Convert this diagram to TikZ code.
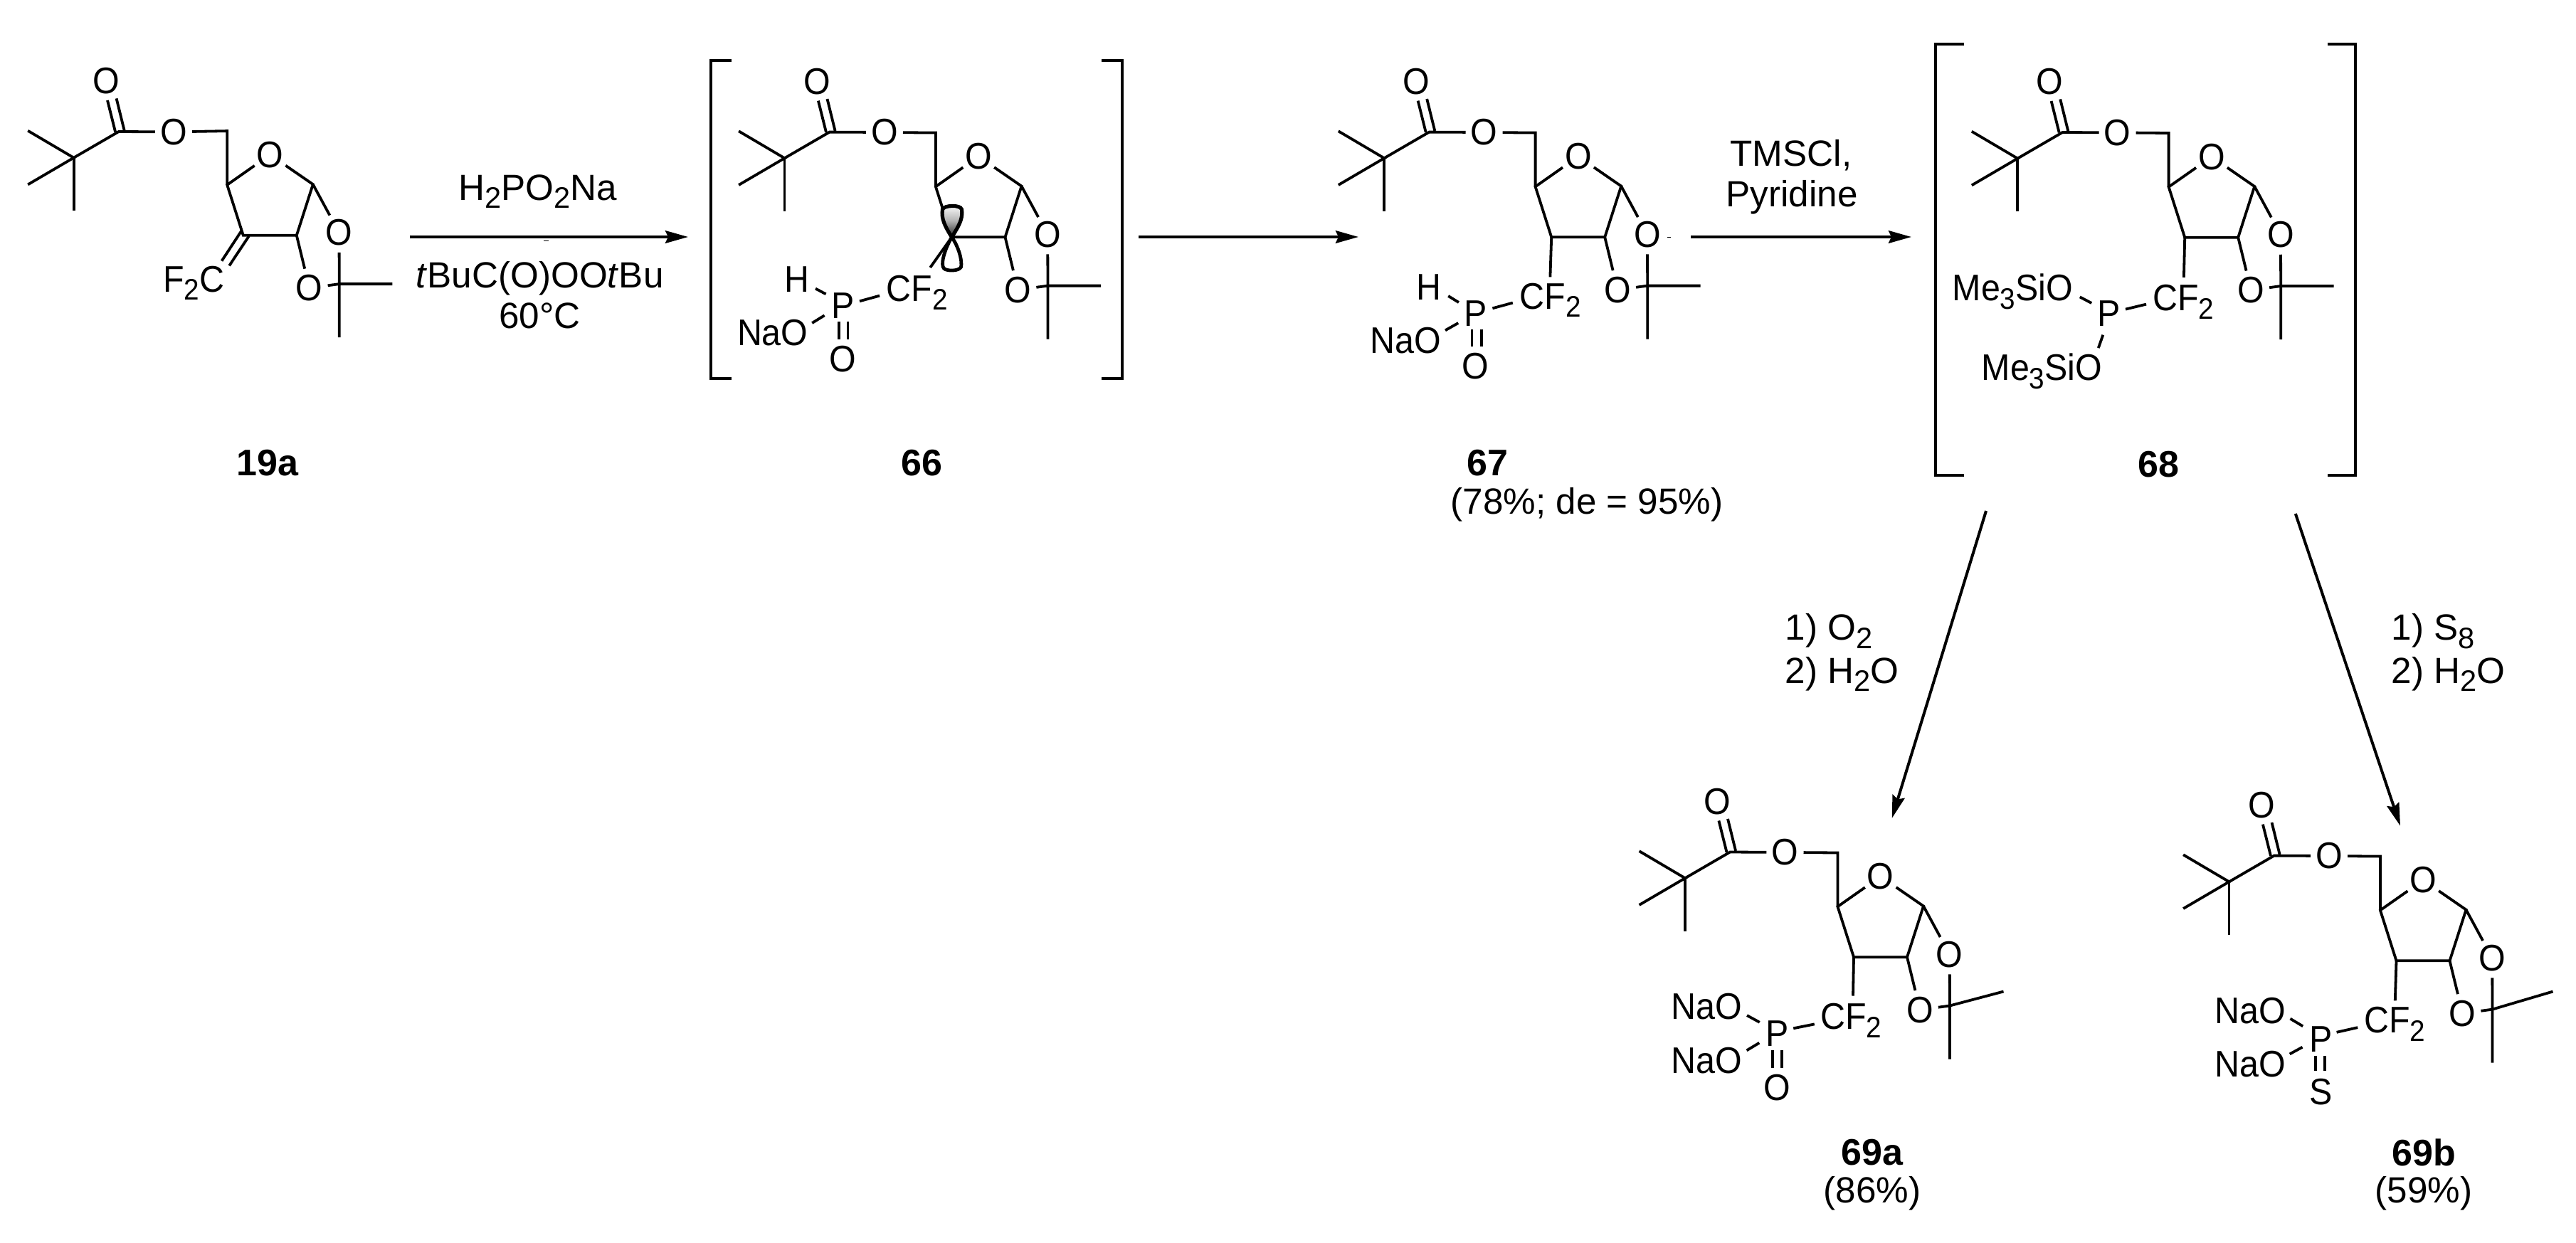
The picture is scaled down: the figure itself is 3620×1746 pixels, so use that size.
\documentclass[tikz,border=0pt]{standalone}
\usepackage{fontspec}
\setmainfont{Liberation Sans}
\usetikzlibrary{arrows.meta}
\newcommand\chsub[1]{\raisebox{-.23em}{\fontsize{10.4}{12}\selectfont #1}}
\newcommand\sugarcore[5]{%
 % #1 prefix, #2 #3 ring offset, #4 #5 far methyl
 \coordinate (#1tb) at (0,0);
 \coordinate (#1me1) at (-64.4,-38);
 \coordinate (#1me2) at (-64.4,37.7);
 \coordinate (#1me3) at (0,74.3);
 \coordinate (#1co) at (63.2,-36.7);
 \coordinate (#1da1) at (47.4,-80.7);
 \coordinate (#1da2) at (58.5,-36.3);
 \coordinate (#1db1) at (60,-83.3);
 \coordinate (#1db2) at (71.1,-38.3);
 \node[atom] (#1Ot) at (45.5,-108) {O};
 \node[atom] (#1Oe) at (140.4,-36.3) {O};
 \begin{scope}[shift={(#2,#3)}]
  \coordinate (#1ch2) at (212.4,-35.7);
  \coordinate (#1c4) at (212.4,40);
  \coordinate (#1c1) at (333,39.3);
  \coordinate (#1c2) at (310,111);
  \coordinate (#1c3) at (235,111);
  \coordinate (#1cm) at (370,179.3);
  \coordinate (#1mr) at (#4,#5);
  \coordinate (#1mb) at (370,254.3);
  \node[atom] (#1Or) at (272.7,-2.3) {O};
  \node[atom] (#1Ou) at (369.7,107) {O};
  \node[atom] (#1Ol) at (328,185) {O};
 \end{scope}
 \draw[bond] (#1me1) -- (#1tb) -- (#1me2);
 \draw[bond] (#1tb) -- (#1me3);
 \draw[bond] (#1tb) -- (#1co) -- (#1Oe);
 \draw[bond] (#1da1) -- (#1da2);
 \draw[bond] (#1db1) -- (#1db2);
 \draw[bond] (#1Oe) -- (#1ch2) -- (#1c4);
 \draw[bond] (#1Or) -- (#1c4) -- (#1c3) -- (#1c2) -- (#1c1) -- (#1Or);
 \draw[bond] (#1c1) -- (#1Ou);
 \draw[bond] (#1c2) -- (#1Ol);
 \draw[bond] (#1Ou) -- (#1cm) -- (#1mb);
 \draw[bond] (#1Ol) -- (#1cm) -- (#1mr);
}
\begin{document}
\begin{tikzpicture}[x=.25pt,y=-.25pt,
 txt/.style={font=\fontsize{12.8}{15.4}\selectfont,inner sep=0pt,align=center},
 atom/.style={txt,font=\fontsize{13}{15.6}\selectfont,circle,minimum size=13.5pt,transform shape,xscale=.93},
 lab/.style={txt,font=\fontsize{13}{15.6}\selectfont,anchor=base west,transform shape,xscale=.93},
 num/.style={txt,font=\fontsize{13}{15.6}\selectfont\bfseries},
 bond/.style={line width=.95pt,line join=miter},
 brk/.style={line width=.95pt,line join=miter},
 rxn/.style={line width=1pt,-{Stealth[length=8pt,width=4.4pt,inset=1pt]}}]
\useasboundingbox (0,0) rectangle (3620,1746);
\fill[white] (0,0) rectangle (3620,1746);

% 19a
\begin{scope}[shift={(103.6,221.7)}]
 \sugarcore{a}{3.2}{-1.9}{444.5}{179.3}
 \coordinate (ae1) at (246.3,110);
 \coordinate (ae2) at (218.6,151.7);
 \coordinate (ae3) at (236.4,101.7);
 \coordinate (ae4) at (208,145);
 \node[lab] (aF) at (125,188.3) {F\chsub{2}C};
 \draw[bond] (ae1) -- (ae2);
 \draw[bond] (ae3) -- (ae4);
\end{scope}

% 66
\begin{scope}[shift={(1102.5,222.3)}]
 \sugarcore{b}{0}{0}{444.5}{179.3}
 \node[atom] (bP) at (82.2,207.7) {P};
 \node[atom] (bH) at (17.8,170) {H};
 \node[atom] (bO) at (82.2,282.7) {O};
 \node[lab] (bCF) at (142.3,201) {CF\chsub{2}};
 \node[lab] (bNa) at (-67.2,262.7) {NaO};
 \coordinate (bh1) at (43.5,183.3);\coordinate (bh2) at (58.1,191);
 \coordinate (bo1) at (38.7,231.7);\coordinate (bo2) at (56.1,221);
 \coordinate (bf1) at (105.5,201);\coordinate (bf2) at (133.6,193.3);
 \coordinate (bd1) at (76.3,229.3);\coordinate (bd2) at (76.3,254.3);
 \coordinate (bd3) at (88.9,229.3);\coordinate (bd4) at (88.9,254.3);
 \coordinate (bg) at (204.7,153.7);
 \draw[bond] (bh1) -- (bh2);
 \draw[bond] (bo1) -- (bo2);
 \draw[bond] (bf1) -- (bf2);
 \draw[bond] (bd1) -- (bd2);
 \draw[bond] (bd3) -- (bd4);
 \path[draw=black,line width=1.2pt] (bc3) .. controls (224,130) and (219,150) .. (224,155) .. controls (228,159) and (245,159) .. (248,153) .. controls (250,145) and (245,125) .. (bc3);
 \path[top color=white,bottom color=black!85,middle color=black!30,draw=black,line width=1.3pt] (bc3) .. controls (225,95) and (220,85) .. (222,72) .. controls (224,66) and (247,65) .. (249,72) .. controls (251,85) and (245,95) .. (bc3);
 \draw[bond] (bc3) -- (bg);
\end{scope}

% 67
\begin{scope}[shift={(1945.2,222.3)}]
 \sugarcore{c}{0}{0}{444.5}{179.3}
 \node[atom] (cP) at (128.5,218.3) {P};
 \node[atom] (cH) at (63.2,181) {H};
 \node[atom] (cO) at (128.5,292.7) {O};
 \node[lab] (cCF) at (189.7,211.7) {CF\chsub{2}};
 \node[lab] (cNa) at (-20.6,273.7) {NaO};
 \coordinate (ch1) at (90,193.7);\coordinate (ch2) at (104.7,202.7);
 \coordinate (co1) at (85.8,242);\coordinate (co2) at (104,231.7);
 \coordinate (cf1) at (152.2,211);\coordinate (cf2) at (180.6,203.3);
 \coordinate (cd1) at (123.3,240.3);\coordinate (cd2) at (123.3,265);
 \coordinate (cd3) at (136.4,240.3);\coordinate (cd4) at (136.4,265);
 \coordinate (cg) at (233.2,167);
 \coordinate (ct1) at (398,111);\coordinate (ct2) at (403,111);
 \draw[bond] (ch1) -- (ch2);
 \draw[bond] (co1) -- (co2);
 \draw[bond] (cf1) -- (cf2);
 \draw[bond] (cd1) -- (cd2);
 \draw[bond] (cd3) -- (cd4);
 \draw[bond] (cc3) -- (cg);
 \draw[line width=.4pt] (ct1) -- (ct2);
\end{scope}

% 68
\begin{scope}[shift={(2835.2,222.7)}]
 \sugarcore{d}{0}{0}{444.5}{179.3}
 \node[atom] (dP) at (128.8,218.4) {P};
 \node[lab] (dCF) at (189.5,213.5) {CF\chsub{2}};
 \node[lab] (dS1) at (-92.2,200) {Me\chsub{3}SiO};
 \node[lab] (dS2) at (-51.2,311.9) {Me\chsub{3}SiO};
 \coordinate (do1) at (87.6,194.7);\coordinate (do2) at (104,203.3);
 \coordinate (do3) at (120.1,248);\coordinate (do4) at (113.6,266.4);
 \coordinate (df1) at (151.8,211.9);\coordinate (df2) at (180.8,204.9);
 \coordinate (dg) at (233.7,167.2);
 \draw[bond] (do1) -- (do2);
 \draw[bond] (do3) -- (do4);
 \draw[bond] (df1) -- (df2);
 \draw[bond] (dc3) -- (dg);
\end{scope}

% 69a
\begin{scope}[shift={(2368,1234.2)}]
 \sugarcore{e}{2}{0}{445.5}{159.3}
 \node[atom] (eP) at (129.2,218.8) {P};
 \node[atom] (eO) at (129.2,294) {O};
 \node[lab] (eCF) at (189.7,212) {CF\chsub{2}};
 \node[lab] (eN1) at (-19.8,198.4) {NaO};
 \node[lab] (eN2) at (-19.8,274) {NaO};
 \coordinate (eo1) at (87,192.9);\coordinate (eo2) at (104.7,202.6);
 \coordinate (eo3) at (86.6,242.1);\coordinate (eo4) at (104.3,231.5);
 \coordinate (ef1) at (152.2,211.1);\coordinate (ef2) at (181.8,205.2);
 \coordinate (ed1) at (123.3,241.7);\coordinate (ed2) at (123.3,266.4);
 \coordinate (ed3) at (136,241.7);\coordinate (ed4) at (136,266.4);
 \coordinate (eg) at (236,165.3);
 \draw[bond] (eo1) -- (eo2);
 \draw[bond] (eo3) -- (eo4);
 \draw[bond] (ef1) -- (ef2);
 \draw[bond] (ed1) -- (ed2);
 \draw[bond] (ed3) -- (ed4);
 \draw[bond] (ec3) -- (eg);
\end{scope}

% 69b
\begin{scope}[shift={(3132.5,1239.3)}]
 \sugarcore{f}{0}{0}{455}{154.2}
 \node[atom] (fP) at (128.9,220.9) {P};
 \node[atom] (fS) at (128.9,295.2) {S};
 \node[lab] (fCF) at (188.9,212.4) {CF\chsub{2}};
 \node[lab] (fN1) at (-21,198.8) {NaO};
 \node[lab] (fN2) at (-21,274) {NaO};
 \coordinate (fo1) at (85.9,192.4);\coordinate (fo2) at (103.7,203);
 \coordinate (fo3) at (85.2,242.1);\coordinate (fo4) at (103,232.4);
 \coordinate (ff1) at (151.1,211.5);\coordinate (ff2) at (180.7,204.8);
 \coordinate (fd1) at (121.5,244.3);\coordinate (fd2) at (121.5,265.5);
 \coordinate (fd3) at (134.4,244.3);\coordinate (fd4) at (134.4,265.5);
 \coordinate (fg) at (233.3,167);
 \draw[bond] (fo1) -- (fo2);
 \draw[bond] (fo3) -- (fo4);
 \draw[bond] (ff1) -- (ff2);
 \draw[bond] (fd1) -- (fd2);
 \draw[bond] (fd3) -- (fd4);
 \draw[bond] (fc3) -- (fg);
\end{scope}

% brackets
\coordinate (bl1) at (1028.2,85);\coordinate (bl2) at (998.6,85);\coordinate (bl3) at (998.6,531.7);\coordinate (bl4) at (1028.2,531.7);
\coordinate (br1) at (1548,85);\coordinate (br2) at (1576.8,85);\coordinate (br3) at (1576.8,531.7);\coordinate (br4) at (1548,531.7);
\draw[brk] (bl1) -- (bl2) -- (bl3) -- (bl4);
\draw[brk] (br1) -- (br2) -- (br3) -- (br4);
\coordinate (dl1) at (2760,62);\coordinate (dl2) at (2719.9,62);\coordinate (dl3) at (2719.9,668);\coordinate (dl4) at (2760,668);
\coordinate (dr1) at (3270.6,62);\coordinate (dr2) at (3309.7,62);\coordinate (dr3) at (3309.7,668);\coordinate (dr4) at (3270.6,668);
\draw[brk] (dl1) -- (dl2) -- (dl3) -- (dl4);
\draw[brk] (dr1) -- (dr2) -- (dr3) -- (dr4);

% arrows
\coordinate (s1) at (576,333);\coordinate (e1) at (967,333);
\coordinate (s2) at (1600,333);\coordinate (e2) at (1909,333);
\coordinate (s3) at (2376,333);\coordinate (e3) at (2686,333);
\coordinate (s4) at (2791,718);\coordinate (e4) at (2658.7,1150);
\coordinate (s5) at (3225.8,722);\coordinate (e5) at (3373,1160.7);
\draw[rxn] (s1) -- (e1);
\draw[rxn] (s2) -- (e2);
\draw[rxn] (s3) -- (e3);
\draw[rxn] (s4) -- (e4);
\draw[rxn] (s5) -- (e5);
\coordinate (t1) at (764,338.5);\coordinate (t2) at (771,338.5);
\draw[line width=.4pt] (t1) -- (t2);

% texts
\node[txt,anchor=base] (r1) at (756,281) {H\chsub{2}PO\chsub{2}Na};
\node[txt,anchor=base] (r2) at (758.7,404.3) {\textit{t}BuC(O)OO\textit{t}Bu};
\node[txt,anchor=base] (r3) at (758.4,461.7) {60°C};
\node[txt,anchor=base] (r4) at (2517,233.3) {TMSCl,};
\node[txt,anchor=base] (r5) at (2518,290) {Pyridine};
\node[txt,anchor=base west] (r6) at (2508,899.3) {1) O\chsub{2}};
\node[txt,anchor=base west] (r7) at (2508,960) {2) H\chsub{2}O};
\node[txt,anchor=base west] (r8) at (3360,899.3) {1) S\chsub{8}};
\node[txt,anchor=base west] (r9) at (3360,960) {2) H\chsub{2}O};
\node[num] (n19) at (376,651) {19a};
\node[num] (n66) at (1295,651) {66};
\node[num] (n67) at (2090,651) {67};
\node[num] (n68) at (3033,653) {68};
\node[txt] (y67) at (2230,709) {(78\%; de = 95\%)};
\node[num] (n69a) at (2631,1619.5) {69a};
\node[txt] (y69a) at (2631,1677) {(86\%)};
\node[num] (n69b) at (3406,1619.5) {69b};
\node[txt] (y69b) at (3406,1677) {(59\%)};
\end{tikzpicture}
\end{document}
